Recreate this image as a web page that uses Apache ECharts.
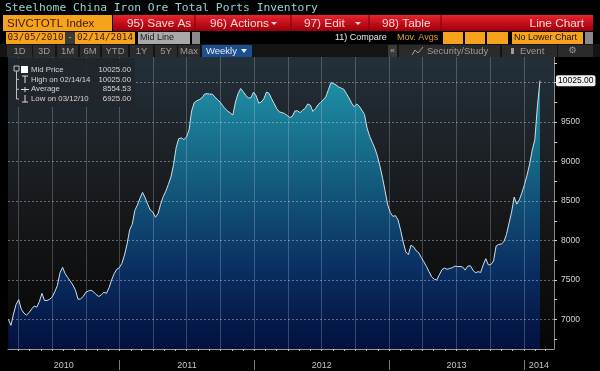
<!DOCTYPE html>
<html><head><meta charset="utf-8">
<script src="https://cdn.jsdelivr.net/npm/echarts@6/dist/echarts.min.js"></script>
<style>html,body{margin:0;padding:0;background:#000;}#c{width:600px;height:371px;}</style>
</head><body><div id="c"></div>
<script>
// ---------------- data ----------------
const chartTitle = 'Steelhome China Iron Ore Total Ports Inventory';
const ticker = 'SIVCTOTL Index';
const startDate = [2010, 2, 5];          // first weekly observation 03/05/2010
const endDateLabel = '02/14/2014';
const startDateLabel = '03/05/2010';
const values = [
 7000,6925,7070,7190,7250,7130,7080,7055,7085,7130,
 7170,7155,7225,7330,7240,7240,7255,7285,7350,7430,
 7590,7660,7580,7530,7485,7435,7370,7255,7260,7290,
 7345,7360,7370,7350,7315,7290,7310,7345,7330,7400,
 7500,7580,7635,7655,7710,7815,7955,8135,8205,8380,
 8450,8535,8610,8540,8460,8385,8360,8295,8340,8460,
 8555,8625,8710,8805,8960,9175,9290,9300,9280,9310,
 9400,9640,9745,9770,9785,9805,9855,9860,9855,9855,
 9820,9785,9755,9710,9670,9640,9615,9590,9755,9860,
 9925,9885,9840,9805,9810,9880,9835,9740,9755,9795,
 9880,9865,9795,9735,9670,9630,9620,9610,9585,9560,
 9570,9640,9645,9620,9650,9675,9730,9715,9635,9670,
 9720,9750,9780,9820,9910,10000,9990,9970,9945,9930,
 9915,9860,9805,9740,9695,9730,9700,9650,9595,9425,
 9320,9245,9170,9070,8940,8790,8625,8450,8355,8305,
 8315,8260,8130,7980,7855,7820,7940,7920,7870,7845,
 7785,7730,7670,7605,7540,7510,7500,7565,7630,7650,
 7635,7645,7655,7675,7670,7670,7665,7625,7675,7680,
 7625,7590,7605,7595,7690,7770,7690,7695,7740,7930,
 7950,7955,7985,8075,8220,8360,8550,8460,8515,8605,
 8710,8830,8970,9145,9280,9700,10025
];
const yLabelValues = [7000, 7500, 8000, 8500, 9000, 9500];
const yTickValues = [6750,7000,7250,7500,7750,8000,8250,8500,8750,9000,9250,9500,9750,10000,10250];
const yGridValues = [7000, 7500, 8000, 8500, 9000, 9500, 10000];
const yearLabels = ['2010', '2011', '2012', '2013', '2014'];
const legendRows = [
  ['Mid Price', '10025.00'],
  ['High on 02/14/14', '10025.00'],
  ['Average', '8554.53'],
  ['Low on 03/12/10', '6925.00']
];
const periodButtons = ['1D','3D','1M','6M','YTD','1Y','5Y','Max'];

// ---------------- derived ----------------
const DAY = 86400000;
const dates = values.map((v, i) => new Date(startDate[0], startDate[1], startDate[2] + 7 * i).getTime());
const seriesData = values.map((v, i) => [dates[i], v]);
const xMin = new Date(2010, 2, 4).getTime();
const xMax = new Date(2014, 2, 24).getTime();
const monthTicks = [];
for (let y = 2010; y <= 2014; y++) for (let m = 0; m < 12; m++) {
  const t = new Date(y, m, 1).getTime();
  if (t > xMin && t < xMax) monthTicks.push(t);
}
const quarterLines = monthTicks.filter(t => new Date(t).getMonth() % 3 === 0);
const yearStarts = [2011, 2012, 2013, 2014].map(y => new Date(y, 0, 1).getTime());
const yearBounds = [xMin].concat(yearStarts, [xMax]);
const yearMids = yearLabels.map((l, i) => Math.round((yearBounds[i] + yearBounds[i + 1]) / 2));

// ---------------- header graphics ----------------
const SANS = '"Liberation Sans", Arial, sans-serif';
const MONO = '"DejaVu Sans Mono", monospace';
const G = [];
function rect(x, y, w, h, fill, extra) { G.push(Object.assign({type:'rect', shape:{x, y, width:w, height:h}, style:{fill}, silent:true, z:10}, extra||{})); }
function text(x, y, s, color, size, font, align, weight) {
  G.push({type:'text', x, y, silent:true, z:11, style:{text:s, fill:color, font:(weight||'normal') + ' ' + size + 'px ' + (font||SANS), textAlign:align||'left', textVerticalAlign:'middle'}});
}
function line(x1, y1, x2, y2, color, w) { G.push({type:'line', shape:{x1, y1, x2, y2}, style:{stroke:color, lineWidth:w||1}, silent:true, z:11}); }

// row 1 title
text(5, 8, chartTitle, '#8fd6d2', 11.3, MONO);
// row 2
rect(3, 15, 109, 16, '#f6a21c');
text(7, 23.5, ticker, '#3a1e00', 11.5, SANS);
rect(113, 15, 480, 16, {type:'linear', x:0, y:0, x2:0, y2:1, colorStops:[{offset:0, color:'#e5262e'}, {offset:0.45, color:'#c8101b'}, {offset:1, color:'#99000c'}]});
[195, 291, 369, 441].forEach(x => line(x, 15, x, 31, '#7a0008', 1));
text(127, 23.5, '95) Save As', '#f6dada', 11.8);
text(210, 23.5, '96) Actions', '#f6dada', 11.8);
G.push({type:'polygon', shape:{points:[[271,22],[277,22],[274,25]]}, style:{fill:'#f6dada'}, silent:true, z:11});
text(304, 23.5, '97) Edit', '#f6dada', 11.8);
G.push({type:'polygon', shape:{points:[[355,22],[361,22],[358,25]]}, style:{fill:'#f6dada'}, silent:true, z:11});
text(382, 23.5, '98) Table', '#f6dada', 11.8);
text(584, 23.5, 'Line Chart', '#f6dada', 11.8, SANS, 'right');
// row 3
rect(6, 32, 59, 12, '#f6a21c');
text(35.5, 38, startDateLabel, '#3a1e00', 9.3, MONO, 'center');
rect(65, 32, 10, 12, '#3a3a3a');
text(70, 38, '-', '#f6a21c', 9, MONO, 'center');
rect(75, 32, 60, 12, '#f6a21c');
text(105, 38, endDateLabel, '#3a1e00', 9.3, MONO, 'center');
rect(138, 32, 52, 12, '#a9a9a9');
text(140, 38, 'Mid Line', '#1a1a1a', 9, SANS);
rect(192, 32, 8, 12, '#8a8a8a');
text(335, 38, '11) Compare', '#e8e8e8', 9, SANS);
text(397, 38, 'Mov. Avgs', '#e0a020', 9, SANS);
rect(443, 32, 20, 12, '#f6a21c');
rect(465, 32, 20, 12, '#f6a21c');
rect(487, 32, 21, 12, '#f6a21c');
rect(512, 32, 71, 12, '#f6a21c');
text(514, 38, 'No Lower Chart', '#1a1000', 9, SANS);
rect(585, 32, 8, 12, '#8a8a8a');
// row 4
rect(0, 44, 600, 13, '#141414');
const btnX = [7, 33, 57, 80, 102, 130, 155, 178];
const btnW = [25, 22, 21, 20, 26, 23, 22, 22];
periodButtons.forEach((b, i) => { rect(btnX[i], 45, btnW[i], 12, '#2b2b2b'); text(btnX[i] + btnW[i] / 2, 51, b, '#9b9b9b', 9.5, SANS, 'center'); });
rect(202, 45, 50, 12, '#1d4f8e');
text(206, 51, 'Weekly', '#e8eef8', 9.5, SANS);
G.push({type:'polygon', shape:{points:[[241,49],[247,49],[244,53]]}, style:{fill:'#e8eef8'}, silent:true, z:11});
rect(388, 45, 9, 12, '#3a3a3a');
text(392.5, 51, '«', '#bbbbbb', 8, SANS, 'center');
rect(399, 45, 101, 12, '#2b2b2b');
text(427, 51, 'Security/Study', '#9b9b9b', 9.5, SANS);
G.push({type:'polyline', shape:{points:[[412,55],[415,50],[418,53],[423,47]]}, style:{stroke:'#9b9b9b', lineWidth:1}, silent:true, z:11});
rect(502, 45, 55, 12, '#2b2b2b');
text(520, 51, 'Event', '#9b9b9b', 9.5, SANS);
rect(511, 48, 3, 6, '#9b9b9b');
rect(558, 45, 35, 12, '#2b2b2b');
text(572.5, 51, '⚙', '#9b9b9b', 9, '"DejaVu Sans"', 'center');

// legend box
rect(8, 58, 127, 49, 'rgba(34,38,44,0.92)', {z:12});
G.push({type:'rect', shape:{x:14, y:66, width:5, height:5}, style:{fill:'none', stroke:'#bfbfbf', lineWidth:1}, silent:true, z:13});
G.push({type:'polyline', shape:{points:[[16.5,71],[16.5,99],[19,99]]}, style:{stroke:'#bfbfbf', lineWidth:1, fill:'none'}, silent:true, z:13});
[79.3, 89.3].forEach(y => G.push({type:'line', shape:{x1:16.5, y1:y, x2:19, y2:y}, style:{stroke:'#bfbfbf', lineWidth:1}, silent:true, z:13}));
G.push({type:'rect', shape:{x:21, y:66, width:7, height:7}, style:{fill:'#ffffff'}, silent:true, z:13});
const legY = [70, 79.5, 89.2, 98.7];
G.push({type:'line', shape:{x1:22, y1:76, x2:28, y2:76}, style:{stroke:'#dddddd'}, silent:true, z:13});
G.push({type:'line', shape:{x1:25, y1:76, x2:25, y2:83}, style:{stroke:'#dddddd'}, silent:true, z:13});
G.push({type:'line', shape:{x1:21, y1:89.5, x2:29, y2:89.5}, style:{stroke:'#dddddd'}, silent:true, z:13});
G.push({type:'line', shape:{x1:25, y1:87, x2:25, y2:92}, style:{stroke:'#dddddd'}, silent:true, z:13});
G.push({type:'line', shape:{x1:25, y1:95, x2:25, y2:102}, style:{stroke:'#dddddd'}, silent:true, z:13});
G.push({type:'line', shape:{x1:22, y1:102, x2:28, y2:102}, style:{stroke:'#dddddd'}, silent:true, z:13});
legendRows.forEach((r, i) => {
  G.push({type:'text', x:31, y:legY[i], silent:true, z:13, style:{text:r[0], fill:'#d4d4d4', font:'7.8px ' + SANS, textVerticalAlign:'middle'}});
  G.push({type:'text', x:131, y:legY[i], silent:true, z:13, style:{text:r[1], fill:'#d4d4d4', font:'7.8px ' + SANS, textAlign:'right', textVerticalAlign:'middle'}});
});

// ---------------- chart ----------------
const chart = echarts.init(document.getElementById('c'), null, {renderer:'canvas'});
const gridLines = quarterLines.map(t => ({xAxis:t, lineStyle:{type:'solid', color:'rgba(210,216,224,0.26)', width:1}}))
  .concat(yGridValues.map(v => ({yAxis:v, lineStyle:{type:[2,2], color:'rgba(210,216,224,0.42)', width:1}})));

chart.setOption({
  animation:false,
  backgroundColor:'#000000',
  grid:{left:8, right:46, top:57, bottom:22, show:true, borderWidth:0,
    backgroundColor:{type:'linear', x:0, y:0, x2:0, y2:1, colorStops:[
      {offset:0, color:'#23303a'}, {offset:0.3, color:'#1d2227'}, {offset:0.6, color:'#141517'}, {offset:1, color:'#060606'}]}},
  xAxis:[{
    type:'value', min:xMin, max:xMax,
    axisLine:{show:true, lineStyle:{color:'#9a9a9a', width:1}},
    axisTick:{show:true, customValues:monthTicks, length:2, lineStyle:{color:'#bdbdbd'}},
    axisLabel:{show:false}, splitLine:{show:false}
  }, {
    type:'value', min:xMin, max:xMax, position:'bottom', offset:11,
    axisLine:{show:false},
    axisTick:{show:true, customValues:yearStarts, length:10, lineStyle:{color:'#7a7a7a'}},
    axisLabel:{show:true, customValues:yearMids, margin:1, color:'#c4c4c4', fontSize:9, fontFamily:SANS,
      formatter:v => { const k = yearMids.findIndex(m => Math.abs(m - v) < DAY); return k >= 0 ? yearLabels[k] : ''; }},
    splitLine:{show:false}
  }],
  yAxis:{
    type:'value', position:'right', min:6625, max:10325,
    axisLine:{show:true, lineStyle:{color:'#8a8a8a'}},
    axisTick:{show:true, customValues:yTickValues, length:3, lineStyle:{color:'#cfcfcf'}},
    axisLabel:{show:true, customValues:yLabelValues, margin:7, color:'#d6d6d6', fontSize:8.5, fontFamily:SANS,
      formatter:v => String(v)},
    splitLine:{show:false}
  },
  series:[{
    type:'line', data:seriesData, xAxisIndex:0, showSymbol:false, symbol:'none', z:2,
    lineStyle:{color:'#cfe0e6', width:1},
    areaStyle:{opacity:1, color:{type:'linear', x:0, y:0, x2:0, y2:1, colorStops:[
      {offset:0, color:'#1f8fa6'}, {offset:0.35, color:'#145f80'}, {offset:0.7, color:'#0a2f62'}, {offset:1, color:'#03103e'}]}},
    endLabel:{show:true, distance:16, formatter:() => values[values.length - 1].toFixed(2),
      backgroundColor:'#f2f2f2', color:'#000000', fontSize:8.5, fontFamily:SANS, padding:[1,2,1,2], borderRadius:2},
    markLine:{silent:true, symbol:'none', label:{show:false}, animation:false, z:8, data:gridLines}
  }],
  graphic:G
});
</script></body></html>
